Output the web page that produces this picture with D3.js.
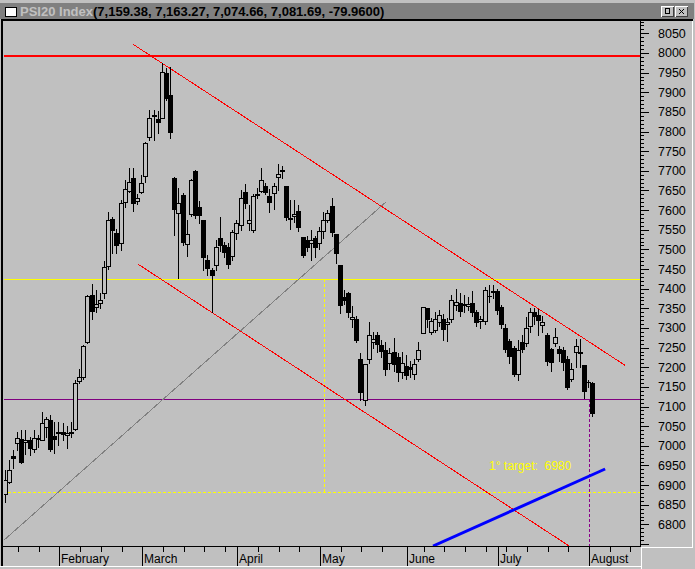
<!DOCTYPE html>
<html><head><meta charset="utf-8">
<script src="https://cdn.jsdelivr.net/npm/d3@7"></script>
<style>
html,body{margin:0;padding:0;background:#c0c0c0;overflow:hidden;}
svg{display:block;}
text{font-family:"Liberation Sans",Arial,sans-serif;}
</style></head><body>
<svg id="c" width="695" height="569"></svg>
<script>
// ---------- DATA ----------
const dates = ["2004-01-14","2004-01-15","2004-01-16","2004-01-19","2004-01-20","2004-01-21","2004-01-22","2004-01-23","2004-01-26","2004-01-27","2004-01-28","2004-01-29","2004-01-30",
"2004-02-02","2004-02-03","2004-02-04","2004-02-05","2004-02-06","2004-02-09","2004-02-10","2004-02-11","2004-02-12","2004-02-13","2004-02-16","2004-02-17","2004-02-18","2004-02-19","2004-02-20","2004-02-23","2004-02-24","2004-02-25","2004-02-26","2004-02-27",
"2004-03-01","2004-03-02","2004-03-03","2004-03-04","2004-03-05","2004-03-08","2004-03-09","2004-03-10","2004-03-11","2004-03-12","2004-03-15","2004-03-16","2004-03-17","2004-03-18","2004-03-19","2004-03-22","2004-03-23","2004-03-24","2004-03-25","2004-03-26","2004-03-29","2004-03-30","2004-03-31",
"2004-04-01","2004-04-02","2004-04-05","2004-04-06","2004-04-07","2004-04-08","2004-04-13","2004-04-14","2004-04-15","2004-04-16","2004-04-19","2004-04-20","2004-04-21","2004-04-22","2004-04-23","2004-04-26","2004-04-27","2004-04-28","2004-04-29","2004-04-30",
"2004-05-03","2004-05-04","2004-05-05","2004-05-06","2004-05-07","2004-05-10","2004-05-11","2004-05-12","2004-05-13","2004-05-14","2004-05-17","2004-05-18","2004-05-19","2004-05-20","2004-05-21","2004-05-24","2004-05-25","2004-05-26","2004-05-27","2004-05-28","2004-05-31",
"2004-06-01","2004-06-02","2004-06-03","2004-06-04","2004-06-07","2004-06-08","2004-06-09","2004-06-10","2004-06-11","2004-06-14","2004-06-15","2004-06-16","2004-06-17","2004-06-18","2004-06-21","2004-06-22","2004-06-23","2004-06-24","2004-06-25","2004-06-28","2004-06-29","2004-06-30",
"2004-07-01","2004-07-02","2004-07-05","2004-07-06","2004-07-07","2004-07-08","2004-07-09","2004-07-12","2004-07-13","2004-07-14","2004-07-15","2004-07-16","2004-07-19","2004-07-20","2004-07-21","2004-07-22","2004-07-23","2004-07-26","2004-07-27","2004-07-28","2004-07-29","2004-07-30",
"2004-08-02","2004-08-03"];

const open = [6877,6907,6974,7006,7017,7010,7016,6993,7021,7016,7048,7066,7025,
7035,7036,7027,7036,7042,7165,7174,7265,7384,7354,7364,7388,7458,7577,7542,7515,7620,7649,7681,7624,
7645,7687,7787,7840,7832,7834,7950,7893,7681,7592,7638,7513,7589,7699,7607,7575,7473,7447,7460,7528,7511,7507,7483,
7541,7562,7645,7566,7549,7640,7649,7661,7637,7644,7683,7700,7661,7581,7584,7598,7531,7524,7517,7528,
7517,7547,7576,7610,7539,7460,7379,7390,7322,7324,7220,7116,7220,7263,7282,7257,7244,7210,7240,7226,7188,
7202,7200,7182,7220,7288,7350,7290,7296,7316,7324,7310,7324,7358,7364,7362,7355,7363,7341,7318,7318,7381,7395,
7395,7353,7301,7267,7250,7183,7265,7261,7304,7341,7333,7307,7282,7247,7262,7247,7244,7220,7169,7238,7237,7205,
7163,7159.38];

const high = [6938,6964,6990,7036,7040,7040,7023,7040,7027,7087,7074,7078,7061,
7061,7057,7050,7061,7167,7195,7256,7385,7412,7396,7390,7470,7595,7583,7553,7626,7677,7706,7706,7640,
7689,7774,7855,7855,7853,7974,7962,7963,7685,7655,7643,7575,7680,7702,7624,7575,7486,7453,7524,7583,7520,7515,7550,
7575,7651,7666,7613,7640,7655,7706,7670,7653,7668,7717,7712,7661,7626,7625,7612,7531,7534,7549,7535,
7558,7595,7600,7630,7540,7460,7397,7392,7356,7330,7237,7208,7316,7290,7290,7270,7265,7250,7275,7235,7240,
7230,7215,7220,7265,7354,7352,7325,7340,7345,7335,7325,7385,7400,7390,7385,7380,7395,7345,7330,7404,7410,7410,
7398,7358,7310,7272,7255,7269,7283,7328,7350,7352,7347,7330,7286,7250,7301,7255,7252,7228,7211,7271,7271,7206,
7168,7163.27];

const low = [6857,6905,6943,6989,6955,6978,6977,6985,6997,7015,7023,6987,6982,
7002,7015,6995,7022,7040,7160,7171,7262,7324,7341,7350,7375,7450,7490,7490,7498,7609,7647,7598,7615,
7643,7672,7778,7778,7795,7834,7880,7783,7536,7426,7511,7483,7585,7579,7566,7447,7435,7340,7447,7495,7480,7452,7472,
7526,7550,7605,7550,7545,7630,7647,7640,7596,7604,7651,7681,7576,7551,7570,7548,7480,7495,7473,7480,
7500,7530,7570,7535,7465,7337,7360,7329,7303,7265,7116,7105,7210,7250,7240,7225,7180,7195,7190,7165,7172,
7170,7175,7170,7215,7286,7303,7285,7290,7305,7270,7268,7316,7345,7330,7340,7345,7330,7305,7300,7310,7367,7375,
7335,7300,7240,7212,7178,7167,7238,7255,7290,7310,7282,7290,7205,7190,7255,7215,7192,7144,7165,7200,7201,7121,
7150,7074.66];

const close = [6913,6938,6967,7019,6957,7014,6993,7021,7015,7057,7067,6989,7016,
7030,7028,7033,7030,7160,7176,7254,7381,7341,7361,7371,7454,7576,7547,7508,7617,7653,7672,7615,7632,
7668,7770,7834,7842,7821,7952,7883,7797,7600,7617,7517,7538,7676,7585,7585,7479,7449,7432,7507,7508,7490,7460,7545,
7566,7632,7615,7575,7636,7641,7677,7644,7619,7661,7691,7701,7581,7575,7590,7555,7484,7503,7525,7504,
7547,7576,7593,7541,7488,7355,7369,7339,7327,7267,7135,7208,7282,7271,7257,7240,7194,7235,7205,7186,7210,
7178,7192,7208,7243,7354,7320,7318,7322,7333,7296,7316,7371,7367,7341,7355,7362,7337,7313,7324,7397,7378,7390,
7344,7307,7244,7225,7180,7245,7245,7301,7341,7328,7318,7316,7214,7211,7278,7234,7210,7146,7195,7253,7239,7137,
7161.65,7081.69];

const monthLabels = ["February","March","April","May","June","July","August"];
const monthStartIdx = [13,33,56,76,97,119,141];
const weekTickIdx = [3,8,18,23,28,38,43,48,53,61,66,71,81,86,91,101,106,111,116,121,126,131,136,146,151];
const yLabelValues = [8050,8000,7950,7900,7850,7800,7750,7700,7650,7600,7550,7500,7450,7400,7350,7300,7250,7200,7150,7100,7050,7000,6950,6900,6850,6800];

// horizontal levels
const resistanceLevel = 7993;
const yellowLevel = 7424;
const purpleLevel = 7118;
const targetLevel = 6881.5;
// trend lines as [index, value] pairs
const upperChannel = [[30.8,8022],[149.7,7205]];
const lowerChannel = [[32.05,7462],[136.2,6745]];
const greyTrend = [[-0.73,6757],[91.85,7620]];
const blueTrend = [[103.3,6745],[144.9,6941]];
const yellowDropIdx = 77;
const purpleDropIdx = 141;
const titleName = "PSI20 Index";
const titleValues = "(7,159.38, 7,163.27, 7,074.66, 7,081.69, -79.9600)";
const targetText = "1° target:  6980";

// ---------- CHART ----------
const W = 695, H = 569;
const L = 3, R = 640, T = 20, B = 546;
const svg = d3.select("#c");
const x = d3.scaleLinear().domain([-0.653, 153.33]).range([L, R]);
const y = d3.scaleLinear().domain([6745, 8083.9]).range([B, T]);
const px = v => Math.round(v) + 0.5;

svg.append("rect").attr("width", W).attr("height", H).attr("fill", "#c0c0c0");

// title bar
svg.append("rect").attr("x", 0).attr("y", 3).attr("width", 694).attr("height", 16).attr("fill", "#808080");
svg.append("rect").attr("x", 5.5).attr("y", 7.5).attr("width", 11).attr("height", 9).attr("fill", "#fff").attr("stroke", "#000");
svg.append("text").attr("x", 20).attr("y", 16).attr("font-size", 13).attr("font-weight", "bold").attr("fill", "#c0c0c0").text(titleName);
svg.append("text").attr("x", 93).attr("y", 16).attr("font-size", 13).attr("font-weight", "bold").attr("fill", "#000").text(titleValues);
[661, 675].forEach((bx, k) => {
  const b = svg.append("g").attr("shape-rendering", "crispEdges");
  b.append("rect").attr("x", bx).attr("y", 6).attr("width", 13).attr("height", 11).attr("fill", "#c0c0c0");
  b.append("path").attr("d", `M${bx+0.5},${16.5}V${6.5}H${bx+12.5}`).attr("stroke", "#fff").attr("fill", "none");
  b.append("path").attr("d", `M${bx+0.5},${16.5}H${bx+12.5}V${6.5}`).attr("stroke", "#404040").attr("fill", "none");
  if (k === 0) b.append("rect").attr("x", bx + 4.5).attr("y", 8.5).attr("width", 4).attr("height", 5).attr("fill", "none").attr("stroke", "#000");
  else b.append("path").attr("d", `M${bx+4},9L${bx+9},14M${bx+9},9L${bx+4},14`).attr("stroke", "#000").attr("shape-rendering", "auto");
});

// frame lines
const frame = svg.append("g").attr("shape-rendering", "crispEdges");
frame.append("line").attr("x1", 2).attr("x2", 693).attr("y1", 20).attr("y2", 20).attr("stroke", "#000").attr("stroke-width", 2);
frame.append("line").attr("x1", 2).attr("x2", 2).attr("y1", 19).attr("y2", 566).attr("stroke", "#000").attr("stroke-width", 2);
frame.append("line").attr("x1", 0).attr("x2", 641).attr("y1", 566.5).attr("y2", 566.5).attr("stroke", "#fff");
frame.append("line").attr("x1", 641.5).attr("x2", 641.5).attr("y1", 547).attr("y2", 569).attr("stroke", "#fff");
frame.append("line").attr("x1", 692.5).attr("x2", 692.5).attr("y1", 21).attr("y2", 548).attr("stroke", "#fff");
frame.append("line").attr("x1", 641).attr("x2", 693).attr("y1", 547.5).attr("y2", 547.5).attr("stroke", "#fff");

// plot clip
svg.append("clipPath").attr("id", "plotClip").append("rect")
  .attr("x", L + 1).attr("y", T + 1).attr("width", R - L - 1).attr("height", B - T - 1);
const g = svg.append("g").attr("clip-path", "url(#plotClip)");

// horizontal levels
const hl = g.append("g").attr("shape-rendering", "crispEdges");
hl.append("line").attr("x1", L).attr("x2", R).attr("y1", Math.round(y(resistanceLevel))).attr("y2", Math.round(y(resistanceLevel)))
  .attr("stroke", "#ff0000").attr("stroke-width", 2);
hl.append("line").attr("x1", L).attr("x2", R).attr("y1", px(y(yellowLevel))).attr("y2", px(y(yellowLevel))).attr("stroke", "#ffff00");
hl.append("line").attr("x1", L).attr("x2", R).attr("y1", px(y(purpleLevel))).attr("y2", px(y(purpleLevel))).attr("stroke", "#800080");
hl.append("line").attr("x1", L).attr("x2", R).attr("y1", px(y(targetLevel))).attr("y2", px(y(targetLevel)))
  .attr("stroke", "#ffff00").attr("stroke-dasharray", "3,2");
hl.append("line").attr("x1", px(x(yellowDropIdx))).attr("x2", px(x(yellowDropIdx)))
  .attr("y1", y(yellowLevel)).attr("y2", y(targetLevel)).attr("stroke", "#ffff00").attr("stroke-dasharray", "3,2");
hl.append("line").attr("x1", px(x(purpleDropIdx))).attr("x2", px(x(purpleDropIdx)))
  .attr("y1", y(purpleLevel)).attr("y2", B).attr("stroke", "#8a008a").attr("stroke-dasharray", "3,2");

// trend lines
const lineGen = d3.line().x(d => x(d[0])).y(d => y(d[1]));
g.append("path").attr("d", lineGen(greyTrend)).attr("stroke", "#808080").attr("fill", "none").attr("shape-rendering", "crispEdges");
g.append("path").attr("d", lineGen(upperChannel)).attr("stroke", "#ff0000").attr("fill", "none").attr("shape-rendering", "crispEdges");
g.append("path").attr("d", lineGen(lowerChannel)).attr("stroke", "#ff0000").attr("fill", "none").attr("shape-rendering", "crispEdges");
g.append("path").attr("d", lineGen(blueTrend)).attr("stroke", "#0000ff").attr("stroke-width", 3).attr("fill", "none");

// candles
const idx = d3.range(dates.length);
const cg = g.append("g").attr("shape-rendering", "crispEdges");
const candle = cg.selectAll("g.c").data(idx).join("g").attr("class", "c");
candle.append("line")
  .attr("x1", i => Math.round(x(i)) - 0.5).attr("x2", i => Math.round(x(i)) - 0.5)
  .attr("y1", i => Math.round(y(high[i]))).attr("y2", i => Math.round(y(low[i])) + 1)
  .attr("stroke", "#000");
candle.append("rect")
  .attr("x", i => close[i] >= open[i] ? Math.round(x(i)) - 2.5 : Math.round(x(i)) - 3)
  .attr("y", i => Math.round(y(Math.max(open[i], close[i]))) + (close[i] >= open[i] ? 0.5 : 0))
  .attr("width", i => close[i] >= open[i] ? 4 : 5)
  .attr("height", i => Math.max(1, Math.round(y(Math.min(open[i], close[i]))) - Math.round(y(Math.max(open[i], close[i])))))
  .attr("fill", i => close[i] >= open[i] ? "#c0c0c0" : "#000")
  .attr("stroke", i => close[i] >= open[i] ? "#000" : "none");

// annotation
svg.append("text").attr("x", 489).attr("y", 469.5).attr("font-size", 12).attr("fill", "#ffff00")
  .style("white-space", "pre").attr("xml:space", "preserve").text(targetText);

// y axis
const ya = svg.append("g").attr("shape-rendering", "crispEdges");
ya.append("line").attr("x1", R + 0.5).attr("x2", R + 0.5).attr("y1", T).attr("y2", B + 1).attr("stroke", "#000");
d3.range(6750, 8081, 10).forEach(v => {
  const major = v % 50 === 0;
  ya.append("line").attr("x1", R).attr("x2", R + (major ? 9 : 4))
    .attr("y1", px(y(v))).attr("y2", px(y(v))).attr("stroke", "#000");
});
ya.selectAll("text").data(yLabelValues).join("text")
  .attr("x", 658).attr("y", v => y(v)).attr("dy", "0.36em")
  .attr("font-size", 12.5).attr("fill", "#000").text(v => v);

// x axis
const xa = svg.append("g").attr("shape-rendering", "crispEdges");
xa.append("line").attr("x1", L).attr("x2", R + 1).attr("y1", B + 0.5).attr("y2", B + 0.5).attr("stroke", "#000");
weekTickIdx.forEach(i => {
  xa.append("line").attr("x1", px(x(i))).attr("x2", px(x(i))).attr("y1", B).attr("y2", B + 6).attr("stroke", "#000");
});
monthStartIdx.forEach((i, k) => {
  xa.append("line").attr("x1", px(x(i))).attr("x2", px(x(i))).attr("y1", B).attr("y2", B + 20).attr("stroke", "#000");
  xa.append("text").attr("x", Math.round(x(i)) + 2).attr("y", 563).attr("font-size", 12)
    .attr("fill", "#000").attr("shape-rendering", "auto").text(monthLabels[k]);
});
</script>
</body></html>
